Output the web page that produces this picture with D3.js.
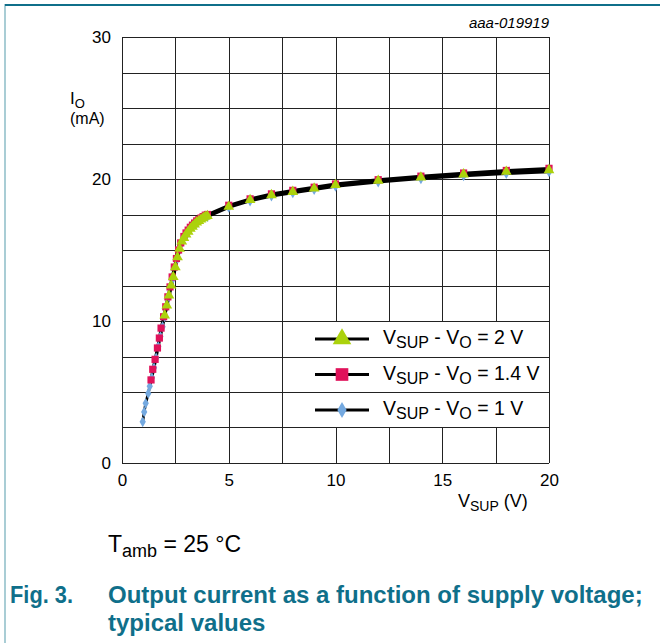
<!DOCTYPE html>
<html><head><meta charset="utf-8">
<script src="https://cdn.jsdelivr.net/npm/d3@7"></script>
<style>body{margin:0;background:#fff}svg{display:block;font-family:"Liberation Sans",Arial,sans-serif}</style>
</head><body><svg id="c" width="660" height="643"></svg>
<script>
// ---- data ----
const xTicks = [0, 5, 10, 15, 20];
const yTicks = [0, 10, 20, 30];
const gridStep = 2.5;

const v2x = [2.0,2.1,2.2,2.3,2.4,2.5,2.6,2.7,2.8,2.9,3.0,3.1,3.2,3.3,3.4,3.5,3.6,3.7,3.8,3.9,4,5,6,7,8,9,10,12,14,16,18,20];
const v2y = [10.4,11.1,11.8,12.5,13.1,13.8,14.5,15.1,15.6,15.85,16.1,16.3,16.5,16.65,16.8,16.95,17.05,17.15,17.25,17.35,17.4,18.05,18.52,18.87,19.1,19.34,19.58,19.88,20.11,20.33,20.51,20.63];

const v14x = [1.36,1.44,1.55,1.66,1.75,1.83,1.95,2.05,2.15,2.25,2.35,2.45,2.55,2.65,2.75,2.9,3.0,3.1,3.2,3.3,3.4,3.5,3.6,3.7,3.8,3.9,4,5,6,7,8,9,10,12,14,16,18,20];
const v14y = [5.85,6.6,7.3,8.1,8.8,9.5,10.3,11.0,11.7,12.4,13.1,13.8,14.4,15.0,15.5,15.95,16.2,16.4,16.6,16.75,16.9,17.05,17.15,17.25,17.35,17.45,17.5,18.15,18.6,18.95,19.2,19.42,19.65,19.95,20.2,20.42,20.6,20.75];

const v1x = [0.97,1.04,1.11,1.23,1.3,1.4,1.5,1.6,1.7,1.8,1.9,2.0,2.2,2.4,2.6,2.8,3.0,3.5,4,5,6,7,8,9,10,12,14,16,18,20];
const v1y = [2.9,3.6,4.2,4.9,5.4,6.0,6.7,7.4,8.2,8.9,9.6,10.3,11.7,13.0,14.4,15.5,16.0,16.9,17.35,18.0,18.45,18.8,19.02,19.25,19.48,19.78,20.02,20.22,20.38,20.5];

const seriesNames = ["2 V", "1.4 V", "1 V"];

// ---- layout ----
const svg = d3.select("#c");
const teal = "#0f6f8a";
const W = 660, H = 643;
const x = d3.scaleLinear().domain([0, 20]).range([122, 549]);
const y = d3.scaleLinear().domain([0, 30]).range([463, 37]);

// frame
svg.append("rect").attr("x", 4).attr("y", 4).attr("width", 2).attr("height", H - 4).attr("fill", "#a9cdd5");
svg.append("rect").attr("x", 5).attr("y", 4).attr("width", W - 5).attr("height", 2).attr("fill", teal);

// grid
const gx = d3.range(0, 20 + 0.001, gridStep);
const gy = d3.range(0, 30 + 0.001, gridStep);
svg.append("g").selectAll("line").data(gx).join("line")
  .attr("x1", d => Math.round(x(d)) + 0.5).attr("x2", d => Math.round(x(d)) + 0.5)
  .attr("y1", y(30)).attr("y2", y(0)).attr("stroke", "#222").attr("stroke-width", 1);

// legend background (covers vertical grid lines)
const lgX = 292, lgY = y(10), lgW = x(20) - 292, lgH = y(2.5) - y(10);
svg.append("rect").attr("x", lgX).attr("y", lgY).attr("width", lgW).attr("height", lgH).attr("fill", "#fff");

svg.append("g").selectAll("line").data(gy).join("line")
  .attr("y1", d => Math.round(y(d)) + 0.5).attr("y2", d => Math.round(y(d)) + 0.5)
  .attr("x1", x(0)).attr("x2", x(20)).attr("stroke", "#222").attr("stroke-width", 1);
svg.append("line").attr("x1", x(20)+0.5).attr("x2", x(20)+0.5).attr("y1", y(30)).attr("y2", y(0)).attr("stroke", "#222");

// axes labels
const yAxis = d3.axisLeft(y).tickValues(yTicks).tickSize(0).tickPadding(11).tickFormat(d3.format("d"));
const ya = svg.append("g").attr("transform", `translate(${x(0)},0)`).call(yAxis);
ya.select(".domain").remove();
ya.selectAll("text").attr("font-size", 17).attr("fill", "#000").style("font-family", "Liberation Sans, Arial, sans-serif");

const xAxis = d3.axisBottom(x).tickValues(xTicks).tickSize(0).tickPadding(11).tickFormat(d3.format("d"));
const xa = svg.append("g").attr("transform", `translate(0,${y(0)})`).call(xAxis);
xa.select(".domain").remove();
xa.selectAll("text").attr("font-size", 17).attr("fill", "#000").style("font-family", "Liberation Sans, Arial, sans-serif");

// axis titles
const t1 = svg.append("text").attr("x", 70).attr("y", 104).attr("font-size", 17);
t1.append("tspan").text("I");
t1.append("tspan").text("O").attr("font-size", 13).attr("dy", 4);
svg.append("text").attr("x", 70).attr("y", 124).attr("font-size", 16).text("(mA)");

const t2 = svg.append("text").attr("x", 458).attr("y", 507).attr("font-size", 18);
t2.append("tspan").text("V");
t2.append("tspan").text("SUP").attr("font-size", 14).attr("dy", 4);
t2.append("tspan").text(" (V)").attr("dy", -4);

svg.append("text").attr("x", 549).attr("y", 28).attr("text-anchor", "end")
  .attr("font-size", 15).attr("font-style", "italic").text("aaa-019919");

// series
const line = d3.line().x(d => x(d[0])).y(d => y(d[1]));
const blue = "#74a9e0", red = "#e0125a", green = "#abd20c";
const defs = [
  {xs: v1x, ys: v1y, color: blue, sym: d3.symbolDiamond, size: 34, name: seriesNames[2]},
  {xs: v14x, ys: v14y, color: red, sym: d3.symbolSquare, size: 52, name: seriesNames[1]},
  {xs: v2x, ys: v2y, color: green, sym: d3.symbolTriangle, size: 50, name: seriesNames[0]}
];
defs.forEach(s => {
  const pts = s.xs.map((v, i) => [v, s.ys[i]]);
  svg.append("path").datum(pts).attr("d", line).attr("fill", "none")
    .attr("stroke", "#000").attr("stroke-width", 2.8);
});
defs.forEach(s => {
  const pts = s.xs.map((v, i) => [v, s.ys[i]]);
  svg.append("g").selectAll("path").data(pts).join("path")
    .attr("d", d3.symbol().type(s.sym).size(s.size))
    .attr("transform", d => `translate(${x(d[0])},${y(d[1])})`)
    .attr("fill", s.color);
});

// legend
const leg = [defs[2], defs[1], defs[0]];
const legSizes = [150, 160, 75];
leg.forEach((s, i) => {
  const cy = 339 + i * 35.5;
  svg.append("line").attr("x1", 315).attr("x2", 369).attr("y1", cy).attr("y2", cy)
    .attr("stroke", "#000").attr("stroke-width", 2.8);
  svg.append("path").attr("d", d3.symbol().type(s.sym).size(legSizes[i]))
    .attr("transform", `translate(342,${cy})`).attr("fill", s.color);
  const t = svg.append("text").attr("x", 383).attr("y", cy + 5).attr("font-size", 19.5);
  t.append("tspan").text("V");
  t.append("tspan").text("SUP").attr("font-size", 16).attr("dy", 4);
  t.append("tspan").text(" - V").attr("dy", -4);
  t.append("tspan").text("O").attr("font-size", 16).attr("dy", 4);
  t.append("tspan").text(" = " + s.name).attr("dy", -4);
});

// conditions
const tc = svg.append("text").attr("x", 108).attr("y", 552).attr("font-size", 23);
tc.append("tspan").text("T");
tc.append("tspan").text("amb").attr("font-size", 18).attr("dy", 5);
tc.append("tspan").text(" = 25 °C").attr("dy", -5);

// caption
const cap = svg.append("g").attr("fill", teal).attr("font-weight", "bold").attr("font-size", 24);
cap.append("text").attr("x", 10).attr("y", 603).attr("textLength", 63).attr("lengthAdjust", "spacingAndGlyphs").text("Fig. 3.");
cap.append("text").attr("x", 108).attr("y", 603).text("Output current as a function of supply voltage;");
cap.append("text").attr("x", 108).attr("y", 631).text("typical values");
</script></body></html>
